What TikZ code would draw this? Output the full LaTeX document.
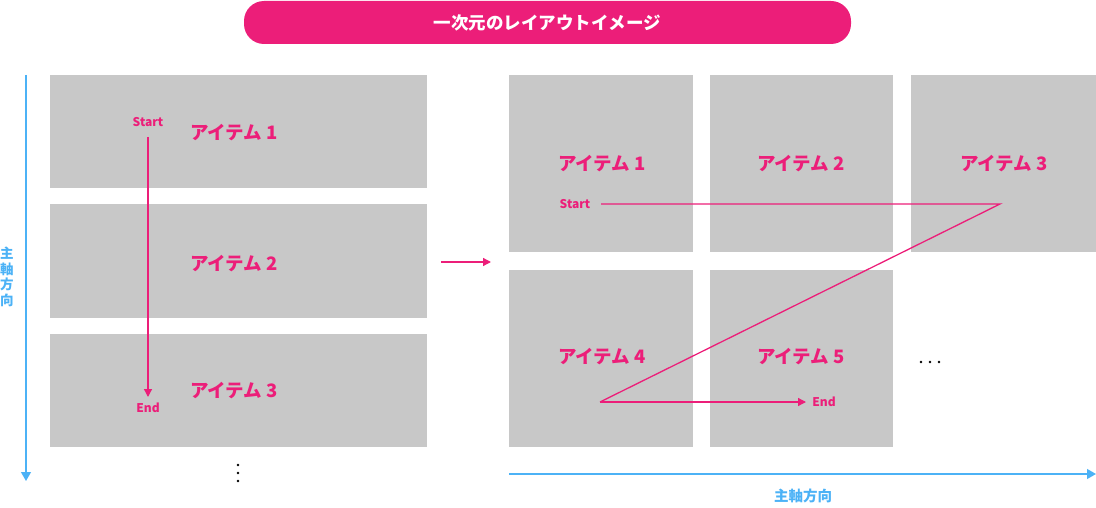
\documentclass[tikz,border=0pt]{standalone}
\usepackage{fontspec}
\newfontfamily\jp{Noto Sans CJK JP}
\usetikzlibrary{arrows.meta}
\definecolor{mag}{HTML}{EC1E79}
\definecolor{gry}{HTML}{C8C8C8}
\definecolor{axblue}{HTML}{4CB2F6}
\tikzset{
  x=1pt,y=-1pt,
  itembox/.style={fill=gry,draw=none,inner sep=0pt,anchor=north west},
  itemlabel/.style={text=mag,font=\jp\bfseries\fontsize{18.5}{20}\selectfont,inner sep=0pt},
  smalllabel/.style={text=mag,font=\jp\bfseries\fontsize{12}{13}\selectfont,inner sep=0pt},
  flow/.style={draw=mag,line width=1.3pt},
  flowarrow/.style={flow,-{Triangle[length=8pt,width=8pt]}},
  axis/.style={draw=axblue,line width=1.3pt,-{Triangle[length=9pt,width=10pt]}},
  axislabel/.style={text=axblue,font=\jp\bfseries\fontsize{14.5}{14.5}\selectfont,inner sep=0pt},
  vaxislabel/.style={text=axblue,font=\jp\bfseries\fontsize{13.5}{15.5}\selectfont,inner sep=0pt},
  dotmark/.style={circle,fill=black,inner sep=0pt,minimum size=2.8pt},
}
\begin{document}
\begin{tikzpicture}
\useasboundingbox (0,0) rectangle (1096,508);
% title
\node[fill=mag,rounded corners=20pt,minimum width=607pt,minimum height=43pt,inner sep=0pt,
  text=white,font=\jp\bfseries\fontsize{17.5}{19}\selectfont] (title) at (547.5,22.5) {一次元のレイアウトイメージ};
% left column
\node[itembox,minimum width=377pt,minimum height=113pt] (L1) at (50,75) {};
\node[itembox,minimum width=377pt,minimum height=114pt] (L2) at (50,204) {};
\node[itembox,minimum width=377pt,minimum height=113pt] (L3) at (50,334) {};
\node[itemlabel] (l1t) at (234,133) {アイテム 1};
\node[itemlabel] (l2t) at (234,264) {アイテム 2};
\node[itemlabel] (l3t) at (234,391) {アイテム 3};
\node[smalllabel] (ls) at (148,122) {Start};
\node[smalllabel] (le) at (148,408) {End};
\coordinate (lsa) at (148,137);
\coordinate (lea) at (148,397);
\draw[flowarrow] (lsa) -- (lea);
\node[dotmark] (vd1) at (238,465) {};
\node[dotmark] (vd2) at (238,473) {};
\node[dotmark] (vd3) at (238,481) {};
% left axis
\coordinate (ax1) at (26,75);
\coordinate (ax2) at (26,481);
\draw[axis] (ax1) -- (ax2);
\node[vaxislabel,align=center] (axl) at (7,277) {主\\軸\\方\\向};
% middle arrow
\coordinate (m1) at (441,262);
\coordinate (m2) at (491,262);
\draw[flowarrow] (m1) -- (m2);
% right grid
\node[itembox,minimum width=184pt,minimum height=177pt] (R1) at (509,75) {};
\node[itembox,minimum width=183pt,minimum height=177pt] (R2) at (710,75) {};
\node[itembox,minimum width=185pt,minimum height=177pt] (R3) at (911,75) {};
\node[itembox,minimum width=184pt,minimum height=177pt] (R4) at (509,270) {};
\node[itembox,minimum width=183pt,minimum height=177pt] (R5) at (710,270) {};
\node[itemlabel] (r1t) at (602,164) {アイテム 1};
\node[itemlabel] (r2t) at (801,164) {アイテム 2};
\node[itemlabel] (r3t) at (1004,164) {アイテム 3};
\node[itemlabel] (r4t) at (602,357) {アイテム 4};
\node[itemlabel] (r5t) at (801,357) {アイテム 5};
\node[smalllabel] (rs) at (575,204) {Start};
\node[smalllabel] (re) at (824,402) {End};
\coordinate (z1) at (601,204);
\coordinate (z2) at (1000,204);
\coordinate (z3) at (600,402);
\coordinate (z4) at (806,402);
\draw[flow] (z1) -- (z2) -- (z3);
\draw[flowarrow] (z3) -- (z4);
\node[dotmark] (hd1) at (921,362) {};
\node[dotmark] (hd2) at (930,362) {};
\node[dotmark] (hd3) at (939,362) {};
% bottom axis
\coordinate (bx1) at (509,474);
\coordinate (bx2) at (1096,474);
\draw[axis] (bx1) -- (bx2);
\node[axislabel] (bxl) at (803,496) {主軸方向};
\end{tikzpicture}
\end{document}
